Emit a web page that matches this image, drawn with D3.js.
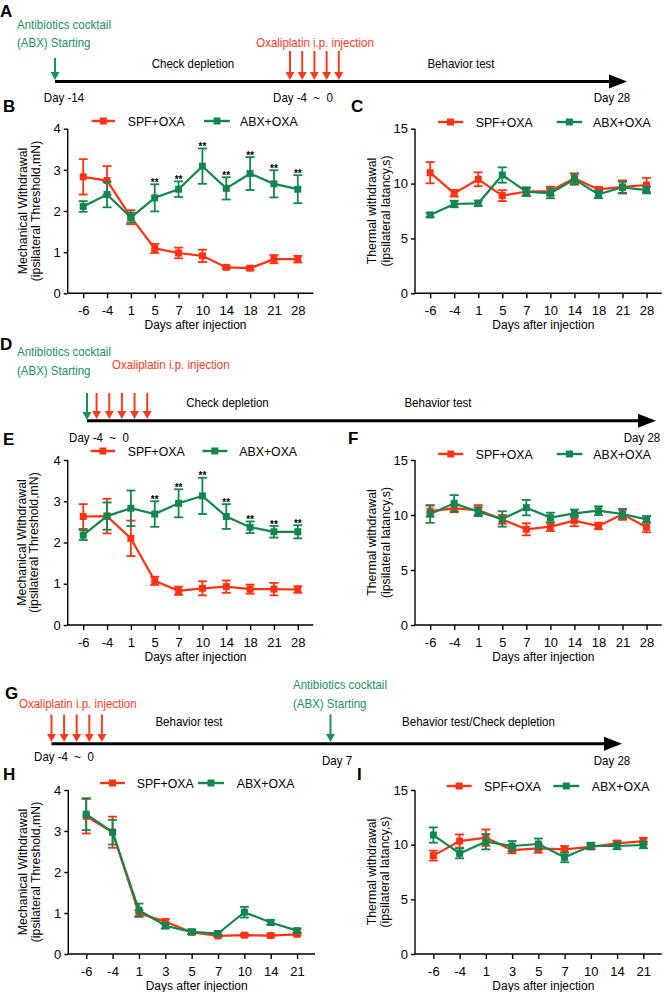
<!DOCTYPE html>
<html><head><meta charset="utf-8">
<script src="https://cdn.jsdelivr.net/npm/d3@7"></script>
<style>body{margin:0;background:#fff}svg{display:block;font-family:Arial,"Liberation Sans",sans-serif}</style>
</head><body>
<svg id="fig" width="665" height="992"></svg>
<script>
// ---------------- DATA ----------------
const seriesNames = ["SPF+OXA", "ABX+OXA"];
const daysLong = ["-6","-4","1","5","7","10","14","18","21","28"];
const daysShort = ["-6","-4","1","3","5","7","10","14","21"];
const mechTicks = [0,1,2,3,4];
const thermTicks = [0,5,10,15];

const B_spf_mean = [2.83, 2.74, 1.85, 1.09, 0.98, 0.91, 0.63, 0.61, 0.83, 0.83];
const B_spf_sem  = [0.43, 0.35, 0.17, 0.11, 0.13, 0.15, 0.03, 0.04, 0.10, 0.08];
const B_abx_mean = [2.11, 2.40, 1.84, 2.32, 2.53, 3.09, 2.55, 2.91, 2.66, 2.53];
const B_abx_sem  = [0.13, 0.31, 0.12, 0.33, 0.19, 0.43, 0.27, 0.40, 0.33, 0.34];
const B_sig      = ["","","","**","**","**","**","**","**","**"];

const C_spf_mean = [10.99, 9.11, 10.39, 8.90, 9.26, 9.32, 10.48, 9.47, 9.69, 9.87];
const C_spf_sem  = [0.97, 0.30, 0.63, 0.50, 0.35, 0.40, 0.45, 0.20, 0.60, 0.65];
const C_abx_mean = [7.14, 8.14, 8.20, 10.78, 9.26, 9.11, 10.39, 9.02, 9.66, 9.41];
const C_abx_sem  = [0.20, 0.30, 0.25, 0.70, 0.40, 0.45, 0.50, 0.35, 0.50, 0.30];

const E_spf_mean = [2.63, 2.64, 2.10, 1.07, 0.83, 0.89, 0.93, 0.87, 0.87, 0.86];
const E_spf_sem  = [0.30, 0.42, 0.43, 0.10, 0.10, 0.17, 0.15, 0.11, 0.15, 0.08];
const E_abx_mean = [2.18, 2.64, 2.83, 2.69, 2.95, 3.13, 2.63, 2.37, 2.26, 2.26];
const E_abx_sem  = [0.12, 0.33, 0.43, 0.31, 0.34, 0.44, 0.30, 0.14, 0.14, 0.16];
const E_sig      = ["","","","**","**","**","**","**","**","**"];

const F_spf_mean = [10.36, 10.60, 10.45, 9.60, 8.70, 8.94, 9.48, 9.00, 10.06, 8.88];
const F_spf_sem  = [0.50, 0.35, 0.45, 0.40, 0.55, 0.40, 0.50, 0.30, 0.50, 0.45];
const F_abx_mean = [10.09, 11.06, 10.30, 9.64, 10.67, 9.76, 10.15, 10.39, 10.09, 9.60];
const F_abx_sem  = [0.80, 0.75, 0.40, 0.70, 0.70, 0.45, 0.35, 0.40, 0.40, 0.30];

const H_spf_mean = [3.36, 2.97, 0.99, 0.79, 0.53, 0.44, 0.46, 0.45, 0.48];
const H_spf_sem  = [0.42, 0.38, 0.08, 0.06, 0.04, 0.03, 0.03, 0.03, 0.03];
const H_abx_mean = [3.41, 2.97, 1.07, 0.69, 0.54, 0.50, 1.02, 0.77, 0.57];
const H_abx_sem  = [0.39, 0.30, 0.16, 0.07, 0.06, 0.05, 0.13, 0.06, 0.05];

const I_spf_mean = [9.00, 10.33, 10.64, 9.51, 9.66, 9.57, 9.80, 10.12, 10.33];
const I_spf_sem  = [0.45, 0.60, 0.75, 0.30, 0.40, 0.30, 0.20, 0.25, 0.30];
const I_abx_mean = [10.88, 9.20, 10.27, 9.88, 10.06, 8.84, 9.88, 9.88, 9.97];
const I_abx_sem  = [0.70, 0.45, 0.70, 0.45, 0.50, 0.45, 0.30, 0.30, 0.30];

const mechTitle = ["Mechanical Withdrawal", "(ipsilateral Threshold,mN)"];
const thermTitle = ["Thermal withdrawal", "(ipsilateral latancy,s)"];
const xTitle = "Days after injection";

// ---------------- STYLE ----------------
const RED = "#ff3214";
const GREEN = "#11874f";
const TGREEN = "#17935a";
const TRED = "#ff3a1c";

const svg = d3.select("#fig");

function letter(t, x, y) {
  svg.append("text").attr("x", x).attr("y", y).attr("font-size", 17).attr("font-weight", "bold").text(t);
}

// ---------------- LINE CHARTS ----------------
function chart(o) {
  const g = svg.append("g");
  const x = d3.scalePoint().domain(o.days).range([o.left, o.right]).padding(o.pad);
  const y = d3.scaleLinear().domain([0, o.ymax]).range([o.y0, o.ytop]);
  const ya = g.append("g").attr("transform", `translate(${o.left},0)`)
    .call(d3.axisLeft(y).tickValues(o.ticks).tickSize(4).tickPadding(3).tickFormat(d3.format("d")));
  ya.select(".domain").attr("stroke-width", 1.4).attr("d", `M-0,${o.y0}V${o.ytop}`);
  ya.selectAll(".tick line").attr("stroke-width", 1.4);
  ya.selectAll("text").attr("font-size", 13).attr("font-family", "Arial, Liberation Sans");
  const xa = g.append("g").attr("transform", `translate(0,${o.y0})`)
    .call(d3.axisBottom(x).tickSize(5).tickPadding(0));
  xa.select(".domain").attr("stroke-width", 1.4).attr("d", `M${o.left},0H${o.right}`);
  xa.selectAll(".tick line").attr("stroke-width", 1.4);
  xa.selectAll("text").attr("font-size", 13).attr("font-family", "Arial, Liberation Sans").attr("dy", null).attr("y", 22);
  g.append("text").attr("x", (o.left + o.right) / 2 + 5).attr("y", o.y0 + 35.5).attr("text-anchor", "middle")
    .attr("font-size", 12).text(xTitle);
  const yc = (o.y0 + o.ytop) / 2;
  o.ytitle.forEach((t, i) => {
    g.append("text").attr("transform", `translate(${o.ytx[i]},${yc}) rotate(-90)`).attr("text-anchor", "middle")
      .attr("dominant-baseline", "central").attr("font-size", 12.3).text(t);
  });
  const series = [{m: o.spf, s: o.spfSem, c: RED}, {m: o.abx, s: o.abxSem, c: GREEN}];
  series.forEach(sr => {
    const pts = o.days.map((d, i) => ({d, v: sr.m[i], e: sr.s[i]}));
    const sg = g.append("g");
    sg.selectAll("line.eb").data(pts).join("line").attr("class", "eb")
      .attr("x1", p => x(p.d)).attr("x2", p => x(p.d))
      .attr("y1", p => y(p.v - p.e)).attr("y2", p => y(p.v + p.e))
      .attr("stroke", sr.c).attr("stroke-width", 1.8);
    [1, -1].forEach(sgn => {
      sg.selectAll("line.cap" + sgn).data(pts).join("line").attr("class", "cap" + sgn)
        .attr("x1", p => x(p.d) - 4.5).attr("x2", p => x(p.d) + 4.5)
        .attr("y1", p => y(p.v + sgn * p.e)).attr("y2", p => y(p.v + sgn * p.e))
        .attr("stroke", sr.c).attr("stroke-width", 1.8);
    });
    sg.append("path").datum(pts).attr("fill", "none").attr("stroke", sr.c).attr("stroke-width", 2.2)
      .attr("d", d3.line().x(p => x(p.d)).y(p => y(p.v)));
    sg.selectAll("rect").data(pts).join("rect")
      .attr("x", p => x(p.d) - 3.5).attr("y", p => y(p.v) - 3.5).attr("width", 7).attr("height", 7).attr("fill", sr.c);
  });
  if (o.sig) {
    g.selectAll("text.sig").data(o.days.map((d, i) => ({d, s: o.sig[i], top: Math.max(o.abx[i] + o.abxSem[i], o.spf[i] + o.spfSem[i])})))
      .join("text").attr("class", "sig").attr("x", p => x(p.d)).attr("y", p => y(p.top) + 1.5)
      .attr("text-anchor", "middle").attr("font-size", 10).attr("font-weight", "bold").text(p => p.s);
  }
  const L = o.legend;
  [[RED, L.r], [GREEN, L.g]].forEach(([c, l], i) => {
    g.append("line").attr("x1", l[0]).attr("x2", l[1]).attr("y1", L.y).attr("y2", L.y).attr("stroke", c).attr("stroke-width", 2.4);
    g.append("rect").attr("x", (l[0] + l[1]) / 2 - 3.5).attr("y", L.y - 3.5).attr("width", 7).attr("height", 7).attr("fill", c);
    g.append("text").attr("x", l[2]).attr("y", L.y + 4.5).attr("font-size", 12.3).text(seriesNames[i]);
  });
}

chart({days: daysLong, left: 67.7, right: 313.3, pad: 0.65, y0: 293.3, ytop: 128.7, ymax: 4, ticks: mechTicks,
  spf: B_spf_mean, spfSem: B_spf_sem, abx: B_abx_mean, abxSem: B_abx_sem, sig: B_sig,
  ytitle: mechTitle, ytx: [23.3, 35.5], legend: {y: 121, r: [91.7, 115, 127.7], g: [204, 230, 240]}});
chart({days: daysLong, left: 415, right: 661.7, pad: 0.63, y0: 293.3, ytop: 128.7, ymax: 15, ticks: thermTicks,
  spf: C_spf_mean, spfSem: C_spf_sem, abx: C_abx_mean, abxSem: C_abx_sem,
  ytitle: thermTitle, ytx: [371.7, 385.7], legend: {y: 122, r: [438, 463, 475.7], g: [556.7, 582, 593]}});
chart({days: daysLong, left: 67.7, right: 313.3, pad: 0.65, y0: 625, ytop: 460, ymax: 4, ticks: mechTicks,
  spf: E_spf_mean, spfSem: E_spf_sem, abx: E_abx_mean, abxSem: E_abx_sem, sig: E_sig,
  ytitle: mechTitle, ytx: [21.7, 34.3], legend: {y: 451, r: [90.7, 115, 127.7], g: [202.3, 227.3, 239.3]}});
chart({days: daysLong, left: 415, right: 661.7, pad: 0.63, y0: 625, ytop: 460, ymax: 15, ticks: thermTicks,
  spf: F_spf_mean, spfSem: F_spf_sem, abx: F_abx_mean, abxSem: F_abx_sem,
  ytitle: thermTitle, ytx: [371.7, 385.7], legend: {y: 454, r: [438.3, 463.3, 475.7], g: [556.7, 582.3, 593.3]}});
chart({days: daysShort, left: 68.3, right: 315, pad: 0.68, y0: 954, ytop: 790, ymax: 4, ticks: mechTicks,
  spf: H_spf_mean, spfSem: H_spf_sem, abx: H_abx_mean, abxSem: H_abx_sem,
  ytitle: mechTitle, ytx: [22.7, 36], legend: {y: 783, r: [100, 125, 136.7], g: [198, 224, 236.7]}});
chart({days: daysShort, left: 415, right: 661.7, pad: 0.7, y0: 954, ytop: 790, ymax: 15, ticks: thermTicks,
  spf: I_spf_mean, spfSem: I_spf_sem, abx: I_abx_mean, abxSem: I_abx_sem,
  ytitle: thermTitle, ytx: [371.7, 385], legend: {y: 786, r: [446.7, 471.7, 484], g: [553.3, 579.3, 591.7]}});

// ---------------- TIMELINES ----------------
function downArrow(x, y1, y2, c) {
  svg.append("line").attr("x1", x).attr("x2", x).attr("y1", y1).attr("y2", y2 - 7).attr("stroke", c).attr("stroke-width", 2);
  svg.append("path").attr("d", `M${x - 4.5},${y2 - 8}L${x + 4.5},${y2 - 8}L${x},${y2}Z`).attr("fill", c);
}
function timeline(x0, x1, y) {
  svg.append("line").attr("x1", x0).attr("x2", x1 - 15).attr("y1", y).attr("y2", y).attr("stroke", "#000").attr("stroke-width", 3);
  svg.append("path").attr("d", `M${x1 - 18},${y - 7}L${x1},${y}L${x1 - 18},${y + 7}Z`).attr("fill", "#000");
}
function label(t, x, y, c, anchor) {
  svg.append("text").attr("transform", `translate(${x},${y}) scale(0.9,1)`).attr("font-size", 12.8)
    .attr("fill", c || "#000").attr("text-anchor", anchor || "middle").text(t);
}
const abxLines = ["Antibiotics cocktail", "(ABX) Starting"];
const oxaLabel = "Oxaliplatin i.p. injection";
const injRange = "Day -4\u00a0\u00a0~\u00a0\u00a00";
const injDays = [0, 1, 2, 3, 4];

// A
timeline(55, 627, 81.5);
label(abxLines[0], 17, 28.5, TGREEN, "start");
label(abxLines[1], 17, 47, TGREEN, "start");
downArrow(55, 58, 80, TGREEN);
label("Check depletion", 193, 67.5);
label(oxaLabel, 315, 47, TRED);
injDays.forEach(i => downArrow(290 + i * 12.2, 51, 80, TRED));
label("Behavior test", 461, 67.5);
label("Day -14", 64, 102);
label(injRange, 303, 102);
label("Day 28", 612, 102);

// D
timeline(87, 656, 420.8);
label(abxLines[0], 17, 355.5, TGREEN, "start");
label(abxLines[1], 17, 374.5, TGREEN, "start");
label(oxaLabel, 112, 368.5, TRED, "start");
downArrow(87, 393, 420, TGREEN);
injDays.forEach(i => downArrow(96.6 + i * 12.65, 393, 419, TRED));
label("Check depletion", 227.5, 407);
label("Behavior test", 438, 407);
label(injRange, 99, 442);
label("Day 28", 642, 442);

// G
timeline(51.5, 622, 743.7);
label(oxaLabel, 19, 708, TRED, "start");
injDays.forEach(i => downArrow(51.5 + i * 12.6, 714.5, 742, TRED));
label("Behavior test", 189, 726);
label(abxLines[0], 293, 689, TGREEN, "start");
label(abxLines[1], 293, 708, TGREEN, "start");
downArrow(330.5, 714.5, 742, TGREEN);
label("Behavior test/Check depletion", 478.5, 726);
label(injRange, 64, 760.5);
label("Day 7", 337, 765);
label("Day 28", 612, 765);

// panel letters
letter("A", 0, 17); letter("B", 3, 112); letter("C", 351, 112);
letter("D", 0, 350); letter("E", 3, 445); letter("F", 348, 444);
letter("G", 5, 699); letter("H", 3, 780); letter("I", 357, 780);
</script>
</body></html>
